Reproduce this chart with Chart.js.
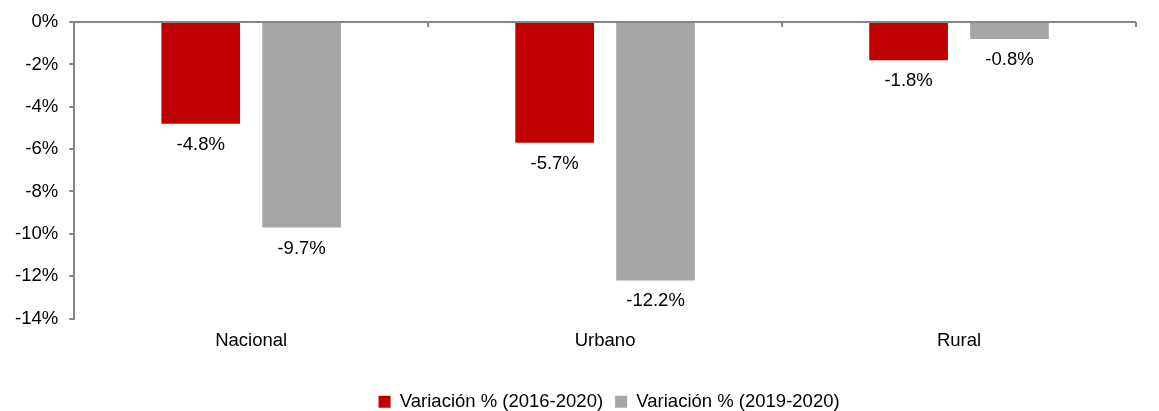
<!DOCTYPE html>
<html>
<head>
<meta charset="utf-8">
<script src="https://cdn.jsdelivr.net/npm/chart.js@4/dist/chart.umd.min.js"></script>
<style>
  html, body { margin: 0; padding: 0; background: #fff; }
  #wrap { width: 1159px; height: 411px; }
</style>
</head>
<body>
<div id="wrap"><canvas id="chart" width="1159" height="411"></canvas></div>
<script>
const categories = ['Nacional', 'Urbano', 'Rural'];
const var2016 = [-4.8, -5.7, -1.8];
const var2019 = [-9.7, -12.2, -0.8];
const seriesNames = ['Variación % (2016-2020)', 'Variación % (2019-2020)'];
const yTicks = [0, -2, -4, -6, -8, -10, -12, -14];

const axisGray = '#868686';
const fontFamily = '"Liberation Sans", Arial, sans-serif';
const fontSize = 18.5;

// labels under each bar, e.g. "-4.8%"
const barLabels = {
    id: 'barLabels',
    afterDatasetsDraw(chart) {
        const ctx = chart.ctx;
        ctx.save();
        ctx.font = fontSize + 'px ' + fontFamily;
        ctx.fillStyle = '#000';
        ctx.textAlign = 'center';
        ctx.textBaseline = 'middle';
        chart.data.datasets.forEach((ds, i) => {
            chart.getDatasetMeta(i).data.forEach((bar, j) => {
                ctx.fillText(ds.data[j].toFixed(1) + '%', bar.x, bar.y + 21);
            });
        });
        ctx.restore();
    }
};

// zero line on top with small inward ticks between categories
const topAxis = {
    id: 'topAxis',
    afterDatasetsDraw(chart) {
        const ctx = chart.ctx;
        const x = chart.scales.x, y = chart.scales.y;
        const y0 = y.getPixelForValue(0);
        const step = x.width / categories.length;
        ctx.save();
        ctx.strokeStyle = axisGray;
        ctx.lineWidth = 2;
        ctx.beginPath();
        ctx.moveTo(x.left - 3, y0);
        ctx.lineTo(x.right, y0);
        for (let i = 0; i < categories.length; i++) {
            const px = x.getPixelForValue(i) + step / 2;
            ctx.moveTo(px, y0);
            ctx.lineTo(px, y0 + 5);
        }
        ctx.stroke();
        ctx.restore();
    }
};

// legend centred under the plot area, not the whole canvas
const legendShift = {
    id: 'legendShift',
    afterLayout(chart) {
        const lg = chart.legend, ca = chart.chartArea;
        const dx = (ca.left + ca.right) / 2 - (lg.left + lg.right) / 2 + 4;
        lg.left += dx;
        lg.right += dx;
    }
};

new Chart(document.getElementById('chart'), {
    type: 'bar',
    data: {
        labels: categories,
        datasets: [
            { label: seriesNames[0], data: var2016, backgroundColor: '#C00000' },
            { label: seriesNames[1], data: var2019, backgroundColor: '#A6A6A6' }
        ]
    },
    options: {
        responsive: false,
        animation: false,
        categoryPercentage: 0.57,
        barPercentage: 0.78,
        layout: { padding: { top: 22, right: 23, left: 4, bottom: -10 } },
        scales: {
            x: {
                grid: { display: false },
                border: { display: false },
                afterFit: scale => { scale.height = 62; },
                ticks: {
                    color: '#000',
                    padding: 3,
                    font: { family: fontFamily, size: fontSize }
                }
            },
            y: {
                min: -14,
                max: 0,
                afterBuildTicks: scale => { scale.ticks = yTicks.map(v => ({ value: v })); },
                grid: { drawOnChartArea: false, drawTicks: true, tickLength: 5, color: axisGray, lineWidth: 2 },
                border: { display: true, color: axisGray, width: 2 },
                ticks: {
                    color: '#000',
                    padding: 11,
                    font: { family: fontFamily, size: fontSize },
                    callback: v => v + '%'
                }
            }
        },
        plugins: {
            tooltip: { enabled: false },
            legend: {
                position: 'bottom',
                labels: {
                    color: '#000',
                    boxWidth: 12,
                    boxHeight: 12,
                    padding: 12,
                    font: { family: fontFamily, size: fontSize }
                }
            }
        }
    },
    plugins: [barLabels, topAxis, legendShift]
});
</script>
</body>
</html>
